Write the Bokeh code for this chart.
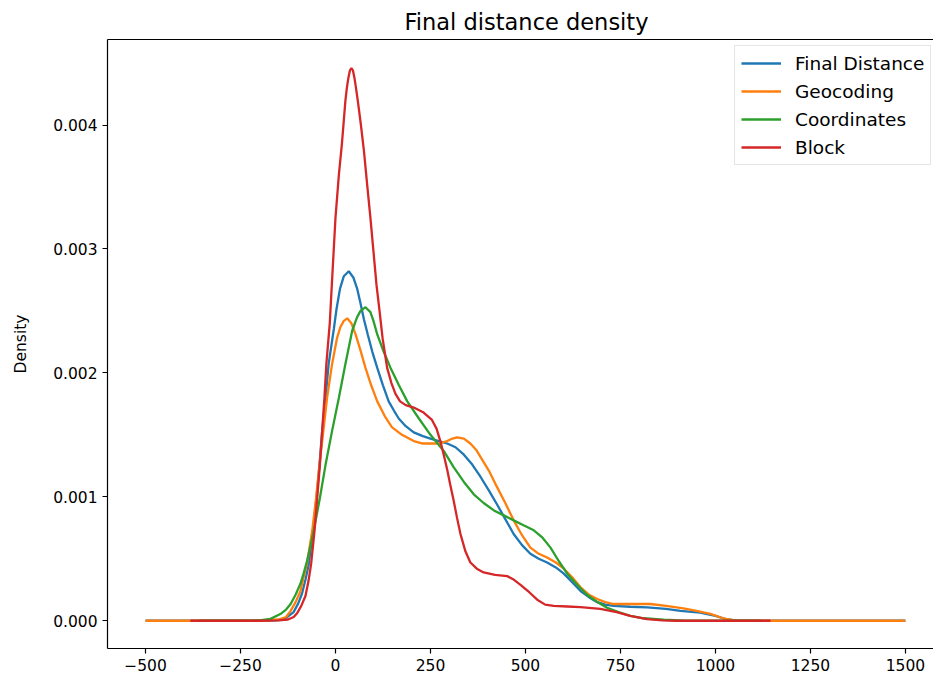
from bokeh.plotting import figure
from bokeh.models import (Range1d, FixedTicker, NumeralTickFormatter, LinearAxis,
                          Legend, LegendItem)
from bokeh.embed import file_html
from bokeh.resources import INLINE

# Kernel density estimates of the final distance, sampled as (distance, density) pairs
final_distance = [
    (-500, 0), (-200, 0), (-160, 0.000003), (-136, 0.00001), (-110, 0.00007), (-98, 0.00014),
    (-88, 0.00022), (-79, 0.00033), (-70, 0.00046), (-59, 0.00073), (-50, 0.00099),
    (-42, 0.00126), (-35, 0.00153), (-26, 0.0018), (-18, 0.00207), (-4, 0.00236),
    (3, 0.00252), (12, 0.00268), (22, 0.00278), (35, 0.00282), (47, 0.00277), (57, 0.00268),
    (66, 0.00256), (75, 0.00243), (85, 0.00231), (97, 0.00217), (110, 0.00204),
    (125, 0.0019), (140, 0.00177), (155, 0.00169), (167, 0.00163), (185, 0.00157),
    (206, 0.00152), (230, 0.00149), (250, 0.00147), (272, 0.00145), (294, 0.00143),
    (316, 0.0014), (338, 0.00134), (360, 0.00126), (382, 0.00116), (404, 0.00105),
    (425, 0.00094), (447, 0.00082), (469, 0.0007), (491, 0.00061), (513, 0.00054),
    (535, 0.0005), (557, 0.00047), (580, 0.00043), (601, 0.00038), (623, 0.00031),
    (645, 0.00024), (667, 0.00019), (689, 0.00015), (710, 0.00013), (732, 0.00012),
    (776, 0.000113), (820, 0.000108), (870, 0.000095), (908, 0.00008), (960, 0.000065),
    (1000, 0.00004), (1031, 0.00001), (1060, 0), (1500, 0),
]

geocoding = [
    (-500, 0), (-200, 0), (-150, 0.00001), (-130, 0.00003), (-118, 0.00008), (-105, 0.00015),
    (-92, 0.00024), (-84, 0.00035), (-75, 0.00046), (-61, 0.00073), (-51, 0.00099),
    (-42, 0.00126), (-32, 0.00153), (-22, 0.0018), (-9, 0.00207), (4, 0.00228),
    (13, 0.00237), (22, 0.00242), (31, 0.00244), (42, 0.0024), (53, 0.00231), (66, 0.00218),
    (79, 0.00204), (94, 0.0019), (110, 0.00177), (130, 0.00165), (149, 0.00156),
    (175, 0.0015), (206, 0.00145), (230, 0.00143), (250, 0.00143), (272, 0.00143),
    (294, 0.00145), (308, 0.00147), (320, 0.00148), (338, 0.00147), (355, 0.00143),
    (370, 0.00138), (382, 0.00132), (404, 0.00121), (425, 0.00108), (447, 0.00095),
    (469, 0.00081), (491, 0.00069), (513, 0.00059), (535, 0.00054), (557, 0.00051),
    (580, 0.00047), (601, 0.00042), (623, 0.00035), (645, 0.00027), (667, 0.00021),
    (689, 0.000175), (710, 0.00015), (732, 0.000135), (780, 0.000135), (829, 0.000135),
    (870, 0.00012), (916, 0.0001), (950, 0.00008), (987, 0.000055), (1020, 0.00002),
    (1050, 0.000003), (1080, 0), (1500, 0),
]

coordinates = [
    (-360, 0), (-230, 0), (-195, 0.000005), (-171, 0.000015), (-145, 0.000054),
    (-130, 0.00009), (-118, 0.000135), (-105, 0.00021), (-92, 0.0003), (-83, 0.00039),
    (-75, 0.00048), (-66, 0.0006), (-57, 0.00073), (-41, 0.00099), (-26, 0.00126),
    (-9, 0.00153), (9, 0.0018), (26, 0.00207), (44, 0.00234), (57, 0.00245), (66, 0.0025),
    (79, 0.00253), (92, 0.00249), (100, 0.00242), (110, 0.00231), (127, 0.00217),
    (145, 0.00204), (167, 0.0019), (189, 0.00177), (220, 0.00163), (250, 0.0015),
    (285, 0.00137), (311, 0.00124), (338, 0.00112), (364, 0.00102), (390, 0.00095),
    (417, 0.00089), (443, 0.00085), (469, 0.00081), (495, 0.00077), (522, 0.00073),
    (545, 0.00067), (566, 0.00059), (588, 0.00048), (610, 0.00038), (636, 0.00029),
    (662, 0.00021), (690, 0.00015), (715, 0.000105), (745, 0.00007), (776, 0.00004),
    (811, 0.00002), (864, 0.000008), (920, 0), (1120, 0),
]

block = [
    (-382, 0), (-200, 0), (-150, 0.000003), (-125, 0.00001), (-110, 0.00003), (-101, 0.00006),
    (-90, 0.00012), (-79, 0.0002), (-71, 0.00032), (-64, 0.00046), (-55, 0.00073),
    (-48, 0.00099), (-41, 0.00126), (-35, 0.00153), (-29, 0.0018), (-24, 0.00207),
    (-15, 0.0024), (-8, 0.0028), (0, 0.00325), (9, 0.0036), (17, 0.00385), (26, 0.00419),
    (30, 0.0043), (34, 0.00438), (38, 0.00444), (42, 0.00446), (46, 0.00444), (50, 0.00438),
    (54, 0.0043), (59, 0.00419), (67, 0.004), (75, 0.00379),
    (84, 0.0035), (92, 0.00325), (100, 0.00298), (108, 0.00271), (116, 0.0025),
    (124, 0.00228), (136, 0.00204), (147, 0.00192), (158, 0.00183), (170, 0.00177),
    (185, 0.00174), (206, 0.00172), (232, 0.00168), (254, 0.00162), (266, 0.00155),
    (276, 0.00145), (285, 0.00134), (294, 0.00122), (302, 0.0011), (311, 0.00097),
    (320, 0.00083), (329, 0.0007), (342, 0.00056), (355, 0.00047), (372, 0.00042),
    (390, 0.00039), (420, 0.00037), (452, 0.00036), (470, 0.00033), (487, 0.00029),
    (510, 0.00023), (531, 0.00017), (552, 0.00013), (574, 0.00012), (610, 0.000115),
    (645, 0.00011), (697, 0.000095), (740, 0.00007), (776, 0.00004), (820, 0.000013),
    (860, 0.000003), (900, 0), (1145, 0),
]

series_names = ["Final Distance", "Geocoding", "Coordinates", "Block"]
series_colors = ["#1f77b4", "#ff7f0e", "#2ca02c", "#d62728"]
series_points = [final_distance, geocoding, coordinates, block]

x_ticks = [-500, -250, 0, 250, 500, 750, 1000, 1250, 1500]
y_ticks = [0.0, 0.001, 0.002, 0.003, 0.004]

FONT = "DejaVu Sans"

p = figure(width=933, height=683,
           x_range=Range1d(-600, 1574), y_range=Range1d(-0.000224, 0.00469),
           output_backend="svg", toolbar_location=None,
           min_border_left=107, min_border_right=0, min_border_top=39, min_border_bottom=35,
           background_fill_color="white", border_fill_color="white")
p.outline_line_color = None
p.grid.visible = False

p.title.text = "Final distance density"
p.title.text_font = FONT
p.title.text_font_size = "22.5px"
p.title.text_font_style = "normal"
p.title.text_color = "black"
p.title.align = "left"
p.title.offset = 297

renderers = []
for name, color, pts in zip(series_names, series_colors, series_points):
    xs = [pt[0] for pt in pts]
    ys = [pt[1] for pt in pts]
    r = p.line(xs, ys, line_color=color, line_width=2.3)
    renderers.append(r)


def style_axis(ax):
    ax.axis_line_color = "black"
    ax.axis_line_width = 1.2
    ax.major_tick_line_color = "black"
    ax.major_tick_line_width = 1.2
    ax.major_tick_in = 0
    ax.major_tick_out = 5
    ax.minor_tick_line_color = None
    ax.major_label_standoff = 5
    ax.major_label_text_font = FONT
    ax.major_label_text_font_size = "15.5px"
    ax.major_label_text_color = "black"


xa = p.xaxis[0]
style_axis(xa)
xa.ticker = FixedTicker(ticks=x_ticks)
xa.major_label_overrides = {t: (f"\u2212{abs(t)}" if t < 0 else str(t)) for t in x_ticks}

ya = p.yaxis[0]
style_axis(ya)
ya.ticker = FixedTicker(ticks=y_ticks)
ya.formatter = NumeralTickFormatter(format="0.000")
ya.axis_label = "Density"
ya.axis_label_text_font = FONT
ya.axis_label_text_font_size = "15.5px"
ya.axis_label_text_font_style = "normal"
ya.axis_label_text_color = "black"
ya.axis_label_standoff = 20

# top spine
top = LinearAxis(ticker=FixedTicker(ticks=[]))
top.axis_line_color = "black"
top.axis_line_width = 1.2
top.major_tick_out = 0
top.major_tick_in = 0
top.minor_tick_line_color = None
top.major_label_standoff = 0
top.major_label_text_font_size = "0px"
p.add_layout(top, "above")

# legend anchored by its bottom-left corner, in pixels from the frame's bottom-left
legend = Legend(
    items=[LegendItem(label=n, renderers=[r]) for n, r in zip(series_names, renderers)],
    location=(627, 483),
    label_text_font=FONT, label_text_font_size="18.5px", label_text_color="black",
    glyph_width=40, glyph_height=22, label_height=22, label_standoff=14,
    spacing=6, padding=6,
    border_line_color="#cccccc", border_line_width=1,
    background_fill_color="white", background_fill_alpha=0.8,
)
p.add_layout(legend)

open("out.html", "w").write(file_html(p, INLINE))
